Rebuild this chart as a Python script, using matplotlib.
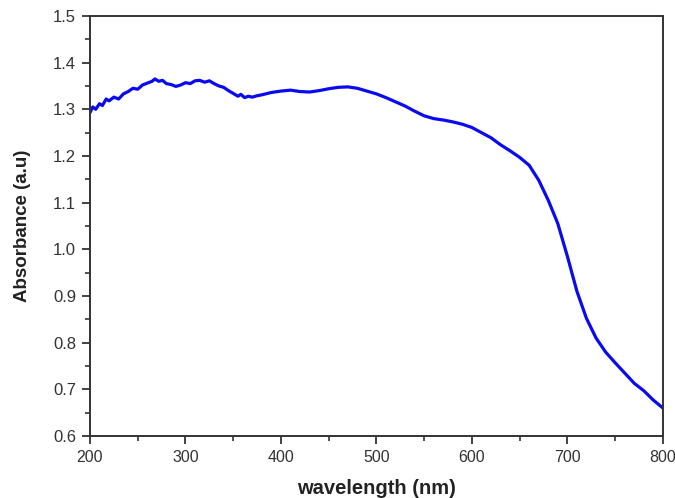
import matplotlib
matplotlib.use("Agg")
import matplotlib.pyplot as plt
from matplotlib.ticker import MultipleLocator

wavelength = [200, 203, 206, 210, 213, 217, 220, 225, 230, 235, 240, 245, 250, 255, 260, 265,
              268, 272, 276, 280, 285, 290, 295, 300, 305, 310, 315, 320, 325, 330, 335, 340,
              345, 350, 355, 358, 362, 366, 370, 375, 380, 390, 400, 410, 420, 430, 440, 450,
              460, 470, 480, 490, 500, 510, 520, 530, 540, 550, 560, 570, 580, 590, 600, 610,
              620, 630, 640, 650, 660, 670, 680, 690, 700, 710, 720, 730, 740, 750, 760, 770,
              780, 790, 800]
absorbance = [1.293, 1.305, 1.300, 1.312, 1.308, 1.322, 1.318, 1.326, 1.322, 1.333, 1.338, 1.345,
              1.343, 1.352, 1.356, 1.360, 1.365, 1.360, 1.362, 1.355, 1.353, 1.349, 1.352, 1.357,
              1.355, 1.361, 1.362, 1.358, 1.361, 1.355, 1.350, 1.347, 1.340, 1.334, 1.328, 1.332,
              1.325, 1.328, 1.326, 1.329, 1.331, 1.336, 1.339, 1.341, 1.338, 1.337, 1.340, 1.344,
              1.347, 1.348, 1.345, 1.339, 1.333, 1.325, 1.316, 1.307, 1.296, 1.286, 1.280, 1.277,
              1.273, 1.268, 1.261, 1.250, 1.239, 1.224, 1.211, 1.197, 1.180, 1.148, 1.105, 1.055,
              0.985, 0.910, 0.852, 0.810, 0.780, 0.757, 0.735, 0.713, 0.697, 0.677, 0.660]

plt.rcParams['font.family'] = ['Liberation Sans', 'DejaVu Sans']

fig = plt.figure(figsize=(6.75, 4.98), dpi=100)
ax = fig.add_axes([0.1333, 0.1245, 0.8487, 0.8435])
ax.plot(wavelength, absorbance, color='#0a0af0', lw=2.3)

ax.set_xlim(200, 800)
ax.set_ylim(0.6, 1.5)
ax.xaxis.set_major_locator(MultipleLocator(100))
ax.xaxis.set_minor_locator(MultipleLocator(50))
ax.yaxis.set_major_locator(MultipleLocator(0.1))
ax.yaxis.set_minor_locator(MultipleLocator(0.05))
ax.yaxis.set_major_formatter(matplotlib.ticker.FormatStrFormatter('%.1f'))

for s in ax.spines.values():
    s.set_color('#333333')
    s.set_linewidth(1.4)
ax.tick_params(which='major', direction='out', length=6, width=1.3, color='#333333',
               labelsize=12, labelcolor='#333333', top=False, right=False, pad=4)
ax.tick_params(axis='x', which='major', labelsize=11.5)
ax.tick_params(which='minor', direction='out', length=3.5, width=1.2, color='#333333',
               top=False, right=False)

ax.set_xlabel('wavelength (nm)', fontsize=14.5, fontweight='bold', color='#222222', labelpad=10)
ax.set_ylabel('Absorbance (a.u)', fontsize=13.5, fontweight='bold', color='#222222', labelpad=16)

fig.savefig('out.png', dpi=100, facecolor='white')
